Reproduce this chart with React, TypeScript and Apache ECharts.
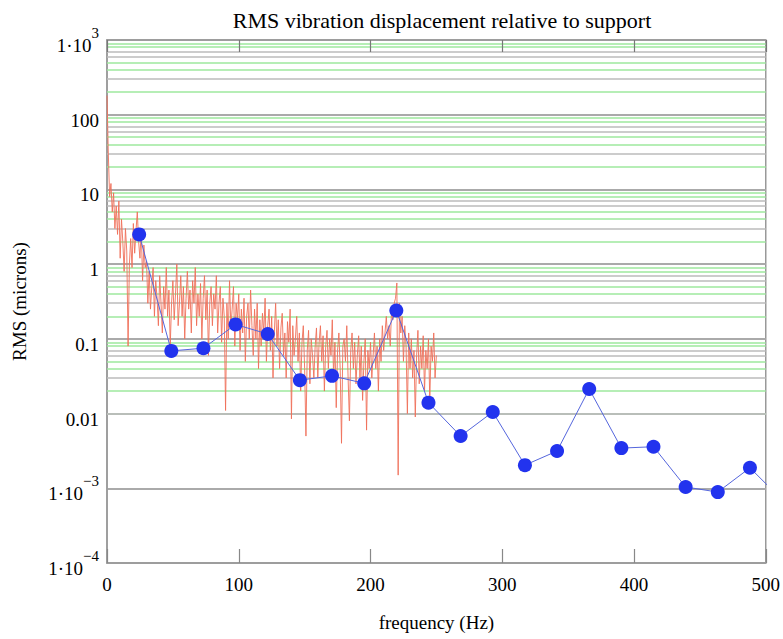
import React, { useEffect, useRef } from "react";
import * as echarts from "echarts";

// Red trace: RMS spectrum sampled every 1 Hz from 0 to 250 Hz
const redStepHz = 1;
const redValues: number[] = [
  180, 30, 8, 12, 5, 9, 3, 6, 2.5, 7,
  1.2, 4, 2, 0.8, 3, 1.5, 0.08, 1.0, 2.2, 0.9,
  3.5, 1.4, 2.8, 5, 2.0, 1.2, 3.0, 0.6, 1.8, 0.9,
  1.1, 0.3, 0.8, 0.25, 0.5, 0.9, 0.2, 0.6, 0.35, 0.15,
  0.7, 0.3, 0.12, 0.5, 0.25, 0.9, 0.2, 0.45, 0.08, 0.3,
  0.6, 0.18, 0.4, 1.0, 0.15, 0.3, 0.7, 0.2, 0.5, 0.1,
  0.35, 0.8, 0.25, 0.45, 0.12, 0.6, 0.3, 0.9, 0.15, 0.4,
  0.2, 0.55, 0.1, 0.35, 0.7, 0.18, 0.45, 0.06, 0.3, 0.5,
  0.15, 0.4, 0.25, 0.7, 0.12, 0.3, 0.5, 0.09, 0.35, 0.2,
  0.011, 0.3, 0.1, 0.6, 0.14, 0.25, 0.5, 0.08, 0.3, 0.18,
  0.4, 0.07, 0.25, 0.12, 0.35, 0.05, 0.2, 0.3, 0.1, 0.45,
  0.15, 0.06, 0.25, 0.1, 0.3, 0.04, 0.18, 0.08, 0.22, 0.12,
  0.35, 0.05, 0.15, 0.25, 0.07, 0.2, 0.03, 0.12, 0.3, 0.08,
  0.18, 0.04, 0.14, 0.22, 0.06, 0.12, 0.03, 0.17, 0.09, 0.25,
  0.0085, 0.15, 0.06, 0.1, 0.2, 0.05, 0.12, 0.02, 0.09, 0.15,
  0.04, 0.005, 0.07, 0.13, 0.025, 0.1, 0.06, 0.03, 0.08, 0.14,
  0.03, 0.09, 0.15, 0.05, 0.11, 0.02, 0.08, 0.13, 0.04, 0.1,
  0.06, 0.18, 0.03, 0.09, 0.012, 0.07, 0.12, 0.04, 0.004, 0.08,
  0.1, 0.05, 0.15, 0.03, 0.008, 0.07, 0.12, 0.04, 0.09, 0.025,
  0.06, 0.11, 0.03, 0.08, 0.015, 0.05, 0.1, 0.006, 0.07, 0.04,
  0.09, 0.03, 0.06, 0.12, 0.04, 0.08, 0.02, 0.1, 0.05, 0.15,
  0.07, 0.12, 0.2, 0.1, 0.15, 0.08, 0.25, 0.18, 0.3, 0.35,
  0.56, 0.0015, 0.3, 0.12, 0.2, 0.05, 0.15, 0.08, 0.01, 0.12,
  0.04, 0.1, 0.03, 0.07, 0.009, 0.06, 0.13, 0.025, 0.08, 0.04,
  0.11, 0.02, 0.07, 0.04, 0.1, 0.015, 0.08, 0.05, 0.12, 0.03,
  0.06,
];

// Blue trace: band RMS values
const blueFreqs: number[] = [
  24.4, 48.8, 73.2, 97.6, 122.0, 146.4, 170.8, 195.2, 219.6, 244.0,
  268.4, 292.8, 317.2, 341.6, 366.0, 390.4, 414.8, 439.2, 463.6, 488.0, 512.4,
];
const blueValues: number[] = [
  2.5, 0.069, 0.075, 0.156, 0.116, 0.028, 0.032, 0.0254, 0.24, 0.014,
  0.005, 0.0105, 0.00204, 0.00315, 0.0213, 0.00345, 0.0036, 0.00104, 0.00089, 0.00188, 0.0007,
];

// Y tick labels (decades), base and exponent parts
const yTickValues: number[] = [1e-4, 1e-3, 0.01, 0.1, 1, 10, 100, 1e3];
const yTickBase: string[] = ["1·10", "1·10", "0.01", "0.1", "1", "10", "100", "1·10"];
const yTickExp: string[] = ["−4", "−3", "", "", "", "", "", "3"];

// Grid minor multipliers within each decade
const greenMinor: number[] = [2, 4, 5, 8, 9];
const grayMinor: number[] = [3, 6, 7];
const decades: number[] = [1e-4, 1e-3, 0.01, 0.1, 1, 10, 100];

const SERIF = "'Liberation Serif', 'Times New Roman', serif";

export default function App() {
  const ref = useRef<HTMLDivElement>(null);
  useEffect(() => {
    if (!ref.current) return;
    const chart = echarts.init(ref.current, undefined, { renderer: "svg" });

    const redData = redValues.map((v, i) => [i * redStepHz, v]);
    const blueData = blueFreqs.map((f, i) => [f, blueValues[i]]);
    const greenLines: any[] = [];
    const grayLines: any[] = [];
    decades.forEach((d) => {
      greenMinor.forEach((m) => greenLines.push({ yAxis: d * m }));
      grayMinor.forEach((m) => grayLines.push({ yAxis: d * m }));
    });

    const option: any = {
      animation: false,
      backgroundColor: "#fff",
      title: {
        text: "RMS vibration displacement relative to support",
        left: 437,
        top: 4,
        textAlign: "center",
        textStyle: { fontFamily: SERIF, fontSize: 22, fontWeight: "normal", color: "#000" },
      },
      grid: {
        left: 107,
        right: 15,
        top: 40,
        bottom: 76,
        show: true,
        borderColor: "#999",
        borderWidth: 1.5,
      },
      xAxis: [
        {
          type: "value",
          min: 0,
          max: 500,
          interval: 100,
          name: "frequency (Hz)",
          nameLocation: "middle",
          nameGap: 50,
          nameTextStyle: { fontFamily: SERIF, fontSize: 19, color: "#000" },
          axisLine: { show: true, lineStyle: { color: "#999", width: 1.5 } },
          axisTick: { show: true, inside: true, length: 14, lineStyle: { color: "#888", width: 1.2 } },
          axisLabel: { fontFamily: SERIF, fontSize: 19, color: "#000", margin: 12 },
          splitLine: { show: false },
          z: 6,
        },
        {
          type: "value",
          position: "top",
          min: 0,
          max: 500,
          interval: 100,
          axisLine: { show: true, lineStyle: { color: "#999", width: 1.5 } },
          axisTick: { show: true, inside: true, length: 12, lineStyle: { color: "#777", width: 1.2 } },
          axisLabel: { show: false },
          splitLine: { show: false },
          z: 6,
        },
      ],
      yAxis: {
        type: "log",
        logBase: 10,
        min: 1e-4,
        max: 1e3,
        name: "RMS (microns)",
        nameLocation: "middle",
        nameGap: 78,
        nameRotate: 90,
        nameTextStyle: { fontFamily: SERIF, fontSize: 19, color: "#000" },
        axisLine: { show: true, lineStyle: { color: "#999", width: 1.5 } },
        axisTick: { show: false },
        axisLabel: {
          margin: 8,
          formatter: (v: number) => {
            let idx = 0;
            let best = Infinity;
            yTickValues.forEach((t, i) => {
              const d = Math.abs(Math.log10(t) - Math.log10(v));
              if (d < best) { best = d; idx = i; }
            });
            const exp = yTickExp[idx];
            return exp ? `{b|${yTickBase[idx]}}{s|${exp}}` : `{b|${yTickBase[idx]}}`;
          },
          rich: {
            b: { fontFamily: SERIF, fontSize: 19, color: "#000", verticalAlign: "bottom", lineHeight: 30, padding: [8, 0, 0, 0] },
            s: { fontFamily: SERIF, fontSize: 15, color: "#000", verticalAlign: "top", lineHeight: 30 },
          },
        },
        splitLine: { show: true, lineStyle: { color: "#aaa", width: 2 } },
      },
      series: [
        {
          type: "line",
          data: [],
          silent: true,
          z: 1,
          markLine: {
            z: 1,
            silent: true,
            symbol: ["none", "none"],
            label: { show: false },
            lineStyle: { color: "#9ee89e", width: 1.5, type: "solid" },
            emphasis: { disabled: true },
            data: greenLines,
          },
        },
        {
          type: "line",
          data: [],
          silent: true,
          z: 1,
          markLine: {
            z: 1,
            silent: true,
            symbol: ["none", "none"],
            label: { show: false },
            lineStyle: { color: "#bbb", width: 1.5, type: "solid" },
            emphasis: { disabled: true },
            data: grayLines,
          },
        },
        {
          type: "line",
          data: redData,
          showSymbol: false,
          symbol: "none",
          z: 3,
          lineStyle: { color: "#f0705a", width: 1, opacity: 0.9 },
        },
        {
          type: "line",
          data: blueData,
          symbol: "circle",
          symbolSize: 14,
          z: 4,
          itemStyle: { color: "#2233ee" },
          lineStyle: { color: "#5566dd", width: 1 },
        },
      ],
    };
    chart.setOption(option);
    return () => chart.dispose();
  }, []);
  return (
    <div
      ref={ref}
      style={{ position: "fixed", left: 0, top: 0, width: 783, height: 639 }}
    />
  );
}
